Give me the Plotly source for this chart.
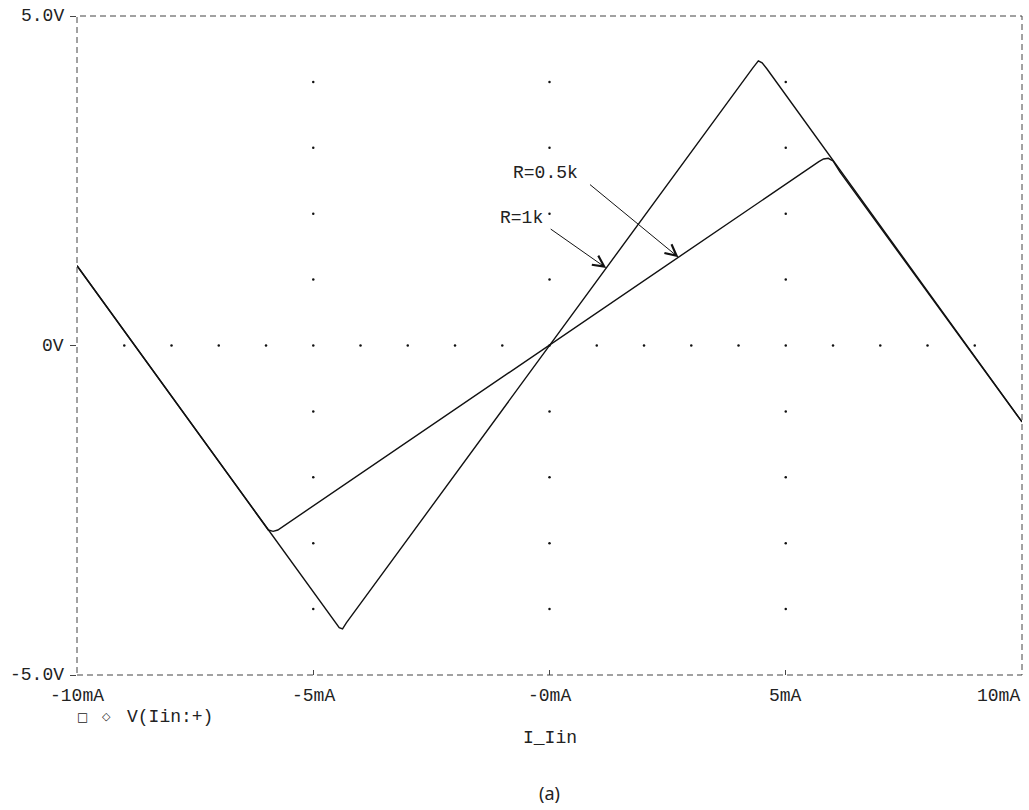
import plotly.graph_objects as go

# Transfer curve V(Iin:+) versus I_Iin for two resistor values
i_r1k = [-10.0, -4.55, -4.45, -4.38, -4.3, 4.3, 4.42, 4.5, 4.6, 10.0]
v_r1k = [1.21, -4.19, -4.28, -4.30, -4.21, 4.21, 4.32, 4.29, 4.20, -1.16]

i_r05k = [-10.0, -6.05, -5.95, -5.85, -5.75, 5.7, 5.8, 5.9, 6.0, 6.15, 10.0]
v_r05k = [1.21, -2.70, -2.80, -2.82, -2.80, 2.79, 2.83, 2.84, 2.80, 2.63, -1.16]

x_ticks = [-10, -5, 0, 5, 10]
x_tick_text = ["-10mA", "-5mA", "-0mA", "5mA", "10mA"]
y_ticks = [-5, 0, 5]
y_tick_text = ["-5.0V", "0V", "5.0V"]

# dotted grid: every mA along 0V, every volt along -5/0/5 mA
dot_row_i = list(range(-9, 10))
dot_col_v = [-4, -3, -2, -1, 1, 2, 3, 4]
dot_col_i = [-5, 0, 5]

MONO = "Liberation Mono, Courier New, monospace"
INK = "#222222"
FS = 18

fig = go.Figure()

grid_x = dot_row_i + [c for c in dot_col_i for _ in dot_col_v]
grid_y = [0] * len(dot_row_i) + [v for _ in dot_col_i for v in dot_col_v]
fig.add_trace(go.Scatter(x=grid_x, y=grid_y, mode="markers",
                         marker=dict(size=2.5, color="#111111"),
                         hoverinfo="skip", showlegend=False))

for xs, ys in [(i_r1k, v_r1k), (i_r05k, v_r05k)]:
    fig.add_trace(go.Scatter(x=xs, y=ys, mode="lines",
                             line=dict(color="#111111", width=1.4),
                             showlegend=False))

# dashed plot frame
fig.add_shape(type="rect", xref="paper", yref="paper", x0=0, y0=0, x1=1, y1=1,
              line=dict(color="#444444", width=1, dash="6px,4px"))

# tick labels placed below / left of the frame
for xv, label in zip(x_ticks, x_tick_text):
    anchor = "center"
    if xv == x_ticks[-1]:
        anchor = "right"
    fig.add_annotation(x=xv, xref="x", yref="paper", y=-0.0137,
                       xanchor=anchor, yanchor="top", showarrow=False,
                       text=label, font=dict(family=MONO, size=FS, color=INK))
for yv, label in zip(y_ticks, y_tick_text):
    fig.add_annotation(xref="paper", x=-0.012, y=yv, yref="y",
                       xanchor="right", yanchor="middle", showarrow=False,
                       text=label, font=dict(family=MONO, size=FS, color=INK))

# curve labels with arrows
fig.add_annotation(x=2.73, y=0.49 * 2.73, ax=-90, ay=-74, text="",
                   showarrow=True, arrowhead=5, arrowsize=2.2, arrowwidth=1,
                   arrowcolor="#111111")
fig.add_annotation(x=1.2, y=0.98 * 1.2, ax=-57, ay=-40, text="",
                   showarrow=True, arrowhead=5, arrowsize=2.2, arrowwidth=1,
                   arrowcolor="#111111")
fig.add_annotation(x=-0.08, y=2.62, text="R=0.5k", showarrow=False,
                   font=dict(family=MONO, size=FS, color=INK))
fig.add_annotation(x=-0.6, y=1.93, text="R=1k", showarrow=False,
                   font=dict(family=MONO, size=FS, color=INK))

# legend line, axis title and caption
fig.add_annotation(xref="paper", yref="paper", x=0.0053, y=-0.0637,
                   xanchor="center", yanchor="middle", showarrow=False,
                   text="\u25a1", font=dict(family="DejaVu Sans", size=12, color=INK))
fig.add_annotation(xref="paper", yref="paper", x=0.0307, y=-0.0637,
                   xanchor="center", yanchor="middle", showarrow=False,
                   text="\u25c7", font=dict(family="DejaVu Sans", size=11, color=INK))
fig.add_annotation(xref="paper", yref="paper", x=0.0503, y=-0.0637,
                   xanchor="left", yanchor="middle", showarrow=False,
                   text="V(Iin:+)", font=dict(family=MONO, size=FS, color=INK))
fig.add_annotation(xref="paper", yref="paper", x=0.5, y=-0.0956,
                   xanchor="center", yanchor="middle", showarrow=False,
                   text="I_Iin", font=dict(family=MONO, size=FS, color=INK))
fig.add_annotation(xref="paper", yref="paper", x=0.5, y=-0.179,
                   xanchor="center", yanchor="middle", showarrow=False,
                   text="(a)", font=dict(family="Noto Sans, Open Sans, sans-serif",
                                         size=18, color="#222222"))

fig.update_xaxes(range=[-10, 10], tickvals=x_ticks, showticklabels=False,
                 ticks="inside", ticklen=5, tickcolor="#444444",
                 showgrid=False, zeroline=False, showline=False)
fig.update_yaxes(range=[-5, 5], tickvals=y_ticks, showticklabels=False,
                 ticks="outside", ticklen=6, tickcolor="#444444",
                 showgrid=False, zeroline=False, showline=False)

fig.update_layout(width=1029, height=810,
                  margin=dict(l=77, r=7, t=16, b=135),
                  plot_bgcolor="white", paper_bgcolor="white")

fig.write_html("out.html")
